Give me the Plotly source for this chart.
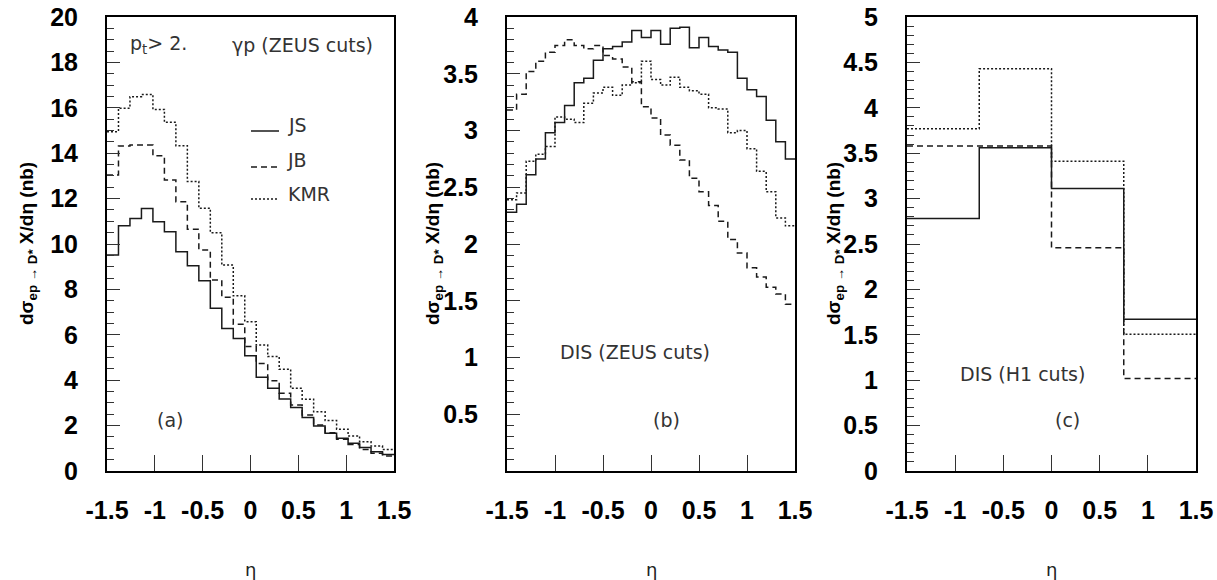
import numpy as np
import plotly.graph_objects as go

# ---------------- data ----------------
# panel (a): gamma-p, ZEUS cuts, 25 bins in eta from -1.5 to 1.5
a_js = [9.52, 10.80, 11.12, 11.56, 10.98, 10.54, 9.66, 9.04, 8.38, 7.17, 6.28, 5.84, 5.08,
        4.13, 3.64, 3.17, 2.80, 2.36, 1.98, 1.66, 1.44, 1.22, 1.03, 0.85, 0.73]
a_jb = [13.04, 14.32, 14.36, 14.36, 13.89, 12.82, 11.86, 10.65, 9.74, 8.41, 7.65, 6.46, 5.48,
        4.74, 3.98, 3.42, 2.91, 2.47, 2.03, 1.69, 1.40, 1.17, 0.95, 0.78, 0.66]
a_kmr = [14.95, 15.98, 16.49, 16.59, 15.93, 15.36, 14.33, 12.75, 11.57, 10.50, 9.07, 7.72, 6.58,
         5.55, 5.04, 4.48, 3.64, 3.16, 2.61, 2.22, 1.84, 1.54, 1.29, 1.10, 0.95]

# panel (b): DIS, ZEUS cuts, 30 bins
b_js = [2.28, 2.35, 2.61, 2.75, 2.98, 3.07, 3.22, 3.42, 3.46, 3.62, 3.72, 3.74, 3.78, 3.88, 3.82,
        3.88, 3.76, 3.90, 3.91, 3.73, 3.82, 3.74, 3.71, 3.69, 3.46, 3.36, 3.30, 3.09, 2.90, 2.75]
b_jb = [3.18, 3.32, 3.52, 3.61, 3.69, 3.75, 3.80, 3.75, 3.72, 3.75, 3.66, 3.63, 3.56, 3.43, 3.21,
        3.11, 2.96, 2.87, 2.74, 2.58, 2.46, 2.34, 2.20, 2.04, 1.92, 1.79, 1.71, 1.62, 1.56, 1.47]
b_kmr = [2.39, 2.45, 2.73, 2.79, 2.86, 3.12, 3.10, 3.07, 3.24, 3.33, 3.38, 3.31, 3.40, 3.42, 3.61,
         3.45, 3.40, 3.47, 3.38, 3.35, 3.32, 3.20, 3.19, 2.98, 3.00, 2.84, 2.64, 2.46, 2.23, 2.16]

# panel (c): DIS, H1 cuts, 4 bins
c_js = [2.78, 3.56, 3.11, 1.67]
c_jb = [3.58, 3.58, 2.46, 1.02]
c_kmr = [3.77, 4.43, 3.41, 1.505]

eta_lo, eta_hi = -1.5, 1.5
x_ticks = [-1.5, -1, -0.5, 0, 0.5, 1, 1.5]
x_ticktext = ["-1.5", "-1", "-0.5", "0", "0.5", "1", "1.5"]
ya_ticks = [0, 2, 4, 6, 8, 10, 12, 14, 16, 18, 20]
yb_ticks = [0.5, 1, 1.5, 2, 2.5, 3, 3.5, 4]
yc_ticks = [0, 0.5, 1, 1.5, 2, 2.5, 3, 3.5, 4, 4.5, 5]

series_names = ["JS", "JB", "KMR"]

# ---------------- style ----------------
W, H = 1217, 580
dash_styles = {"JS": "solid", "JB": "6px,4px", "KMR": "2px,2px"}
LINE_COL = "#1a1a1a"
TICK_FONT = dict(family="Liberation Sans, Arial, sans-serif", size=25, color="black", weight="bold")
TXT_FONT = dict(family="DejaVu Sans, sans-serif", size=19, color="#333")


def px_x(p):
    return p / W


def px_y(p):
    return 1 - p / H


def edges(n):
    return list(np.linspace(eta_lo, eta_hi, n + 1))


def step_trace(vals, name, xa, ya):
    e = edges(len(vals))
    return go.Scatter(x=e, y=list(vals) + [vals[-1]], mode="lines", line_shape="hv",
                      line=dict(color=LINE_COL, width=1.5, dash=dash_styles[name]),
                      xaxis=xa, yaxis=ya, showlegend=False, hoverinfo="skip")


fig = go.Figure()
panels = [("x", "y", [a_js, a_jb, a_kmr]),
          ("x2", "y2", [b_js, b_jb, b_kmr]),
          ("x3", "y3", [c_js, c_jb, c_kmr])]
for xa, ya, sets in panels:
    for name, vals in zip(series_names, sets):
        fig.add_trace(step_trace(vals, name, xa, ya))

# pixel frames of the three panels
frames = [(107, 394), (507, 795), (907, 1196)]
top_px, bot_px = 17, 471

xaxis_common = dict(range=[eta_lo, eta_hi], tickvals=x_ticks, ticktext=x_ticktext,
                    ticks="inside", ticklen=16, tickwidth=1.3, tickcolor="#333",
                    showline=True, linecolor="black", linewidth=2, mirror=True,
                    showgrid=False, zeroline=False, tickfont=TICK_FONT,
                    ticklabelstandoff=16, fixedrange=True, automargin=False)
yaxis_common = dict(ticks="inside", ticklen=13, tickwidth=1.3, tickcolor="#333",
                    showline=True, linecolor="black", linewidth=2, mirror=True,
                    showgrid=False, zeroline=False, tickfont=TICK_FONT,
                    ticklabelstandoff=22, fixedrange=True, automargin=False)

y_specs = [([0, 20], ya_ticks, 0.5), ([0, 4], yb_ticks, 0.1), ([0, 5], yc_ticks, 0.1)]
layout_axes = {}
for i, ((l, r), (yr, yt, mdt)) in enumerate(zip(frames, y_specs)):
    sfx = "" if i == 0 else str(i + 1)
    xkey = "xaxis" + sfx
    ykey = "yaxis" + sfx
    anchor_x = "x" + sfx
    anchor_y = "y" + sfx
    layout_axes[xkey] = dict(xaxis_common, domain=[px_x(l), px_x(r)], anchor=anchor_y)
    layout_axes[ykey] = dict(yaxis_common, domain=[px_y(bot_px), px_y(top_px)], anchor=anchor_x,
                             range=yr, tickvals=yt, ticktext=[("%g" % v) for v in yt],
                             minor=dict(dtick=mdt, tick0=0, ticks="inside", ticklen=7,
                                        tickwidth=1.2, tickcolor="#333"))

fig.update_layout(width=W, height=H, margin=dict(l=0, r=0, t=0, b=0, autoexpand=False),
                  paper_bgcolor="white", plot_bgcolor="white", **layout_axes)

ann = []
ytitle = "<b>dσ<sub>ep → D*</sub> X/dη (nb)</b>"
for (l, r), xc in zip(frames, [28, 434, 835]):
    ann.append(dict(text=ytitle, x=px_x(xc), y=px_y(244), xref="paper", yref="paper",
                    textangle=-90, showarrow=False, xanchor="center", yanchor="middle",
                    font=dict(family="Liberation Sans, Arial, sans-serif", size=19, color="black")))
    ann.append(dict(text="η", x=px_x((l + r) / 2), y=px_y(569), xref="paper", yref="paper",
                    showarrow=False, xanchor="center", yanchor="middle",
                    font=dict(family="DejaVu Sans, sans-serif", size=18, color="#222")))

texts = [("p<sub>t</sub>> 2.", 158, 45), ("γp (ZEUS cuts)", 302, 45),
         ("JS", 297, 125), ("JB", 297, 160), ("KMR", 309, 194),
         ("(a)", 170, 420),
         ("DIS (ZEUS cuts)", 635, 352), ("(b)", 666, 420),
         ("DIS (H1 cuts)", 1022, 374), ("(c)", 1067, 420)]
for t, xc, yc in texts:
    ann.append(dict(text=t, x=px_x(xc), y=px_y(yc), xref="paper", yref="paper",
                    showarrow=False, xanchor="center", yanchor="middle", font=TXT_FONT))
fig.update_layout(annotations=ann)

# legend sample lines (decoration, paper coordinates)
for name, ly in zip(series_names, [131, 167, 199]):
    fig.add_shape(type="line", xref="paper", yref="paper", x0=px_x(251), x1=px_x(279),
                  y0=px_y(ly), y1=px_y(ly),
                  line=dict(color=LINE_COL, width=1.5, dash=dash_styles[name]))

fig.write_html("out.html", config={"displayModeBar": False},
               post_script="document.body.style.margin='0';document.body.style.overflow='hidden';")
